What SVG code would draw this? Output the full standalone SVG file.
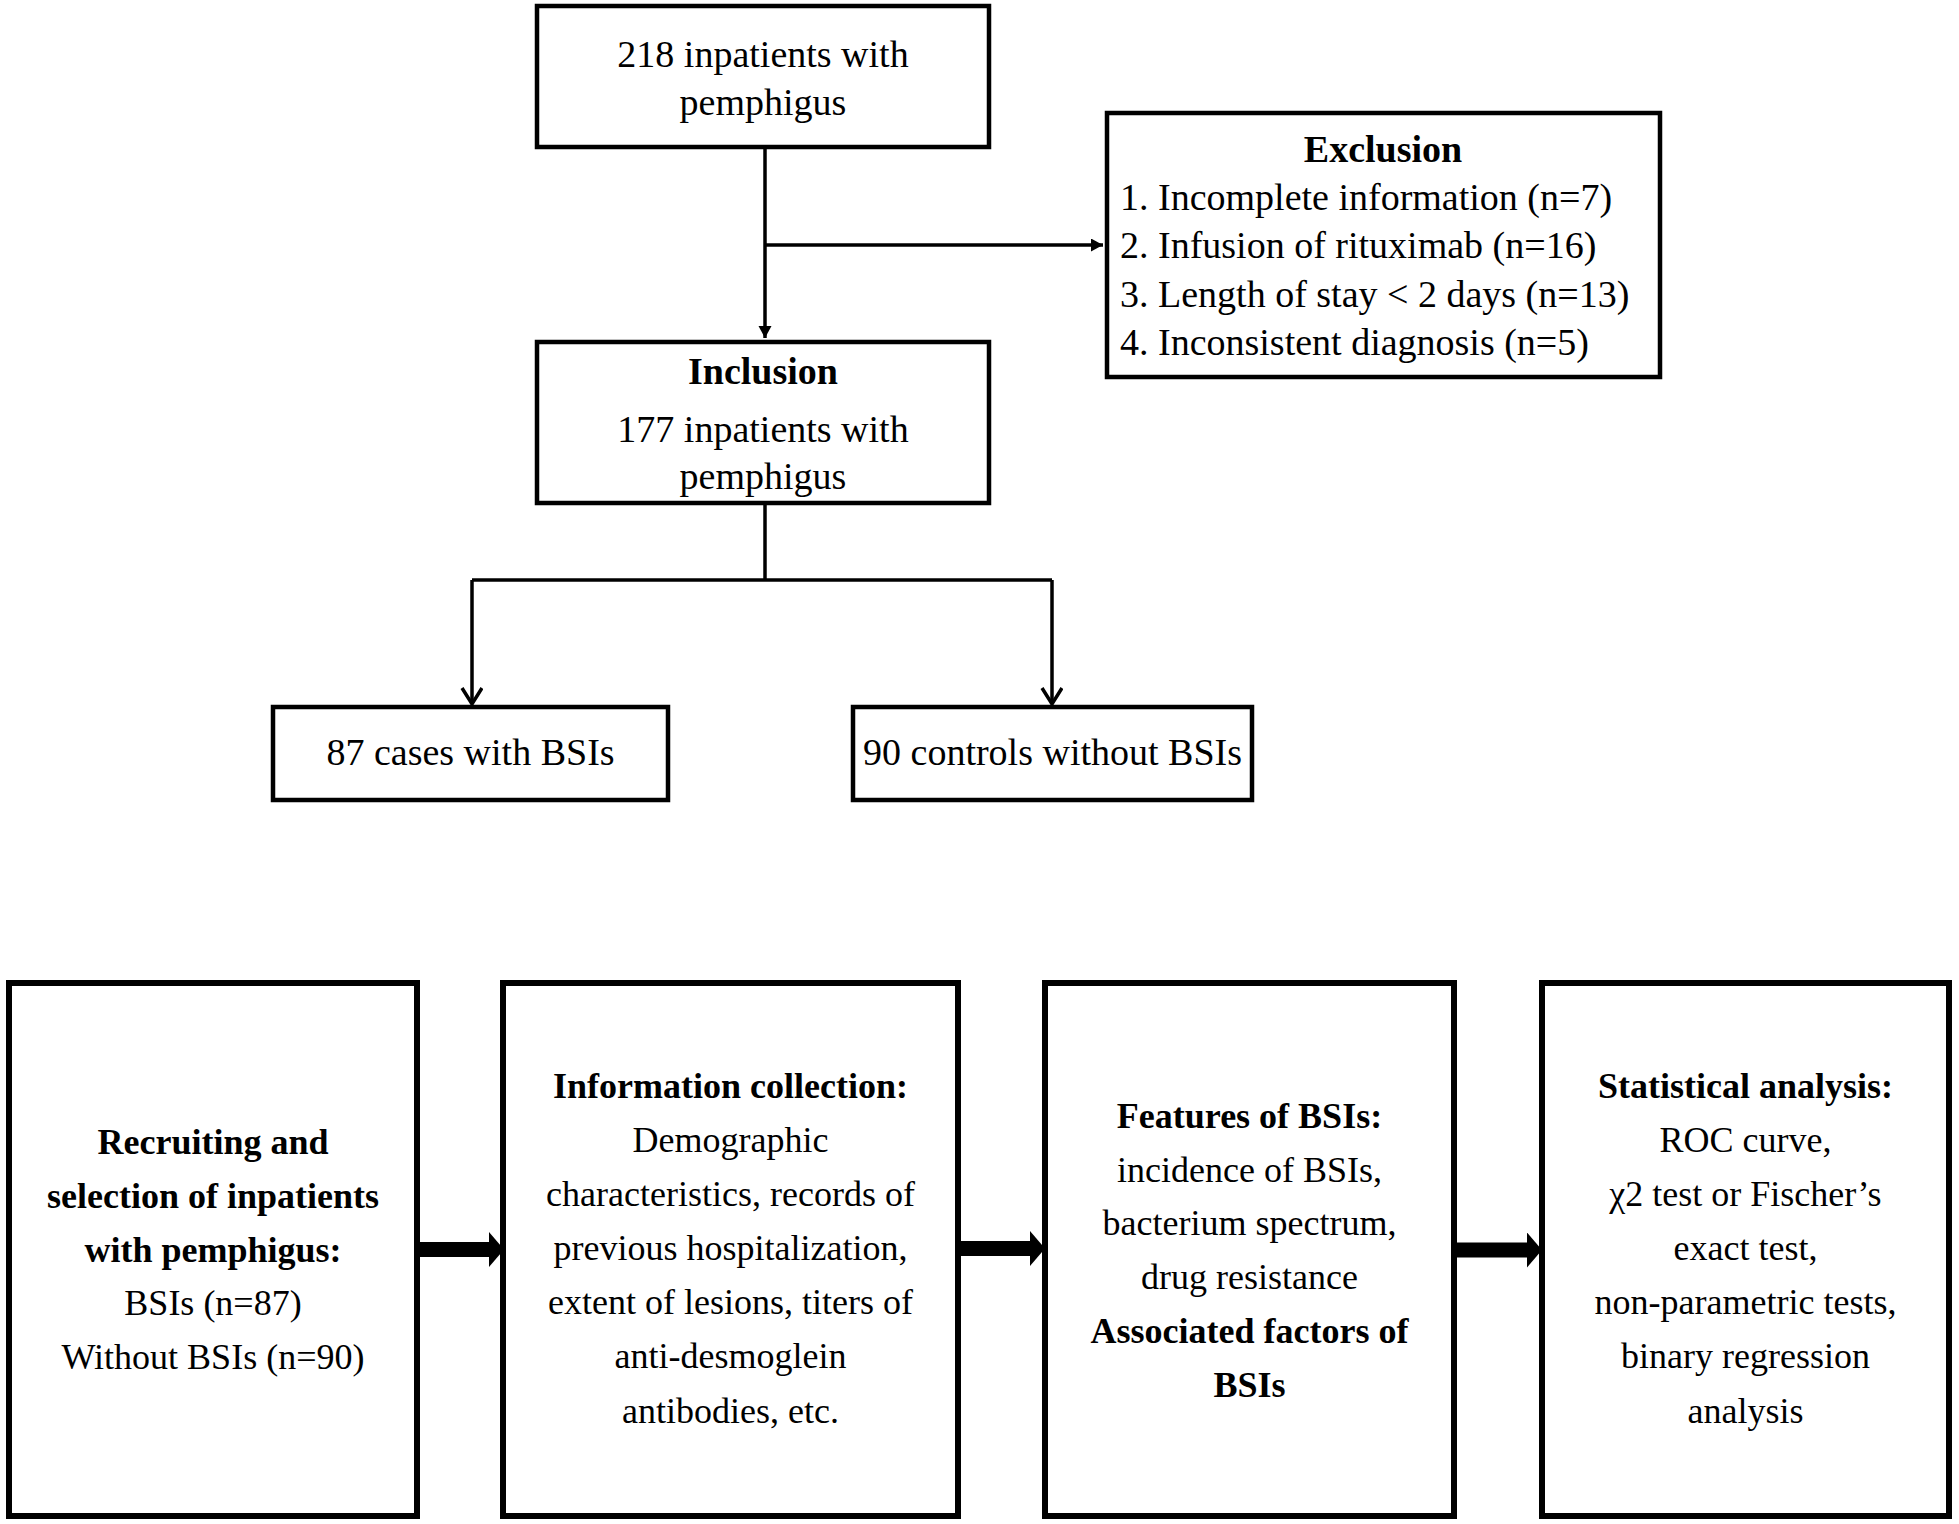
<svg xmlns="http://www.w3.org/2000/svg" width="1959" height="1524" viewBox="0 0 1959 1524">
<style>
  .box { fill: #ffffff; stroke: #000000; stroke-width: 4.5; }
  .bigbox { fill: #ffffff; stroke: #000000; stroke-width: 6; }
  .line { fill: none; stroke: #000000; stroke-width: 3.5; }
  .thick { fill: none; stroke: #000000; stroke-width: 15; }
  text { font-family: "Liberation Serif", "Times New Roman", serif; fill: #000000; }
  .t38 { font-size: 38px; }
  .t36 { font-size: 36px; }
  .c { text-anchor: middle; }
  .b { font-weight: bold; }
</style>
<defs>
  <marker id="solid" markerUnits="userSpaceOnUse" markerWidth="14" markerHeight="14" refX="12" refY="6.5" orient="auto">
    <path d="M0,0 L12,6.5 L0,13 z" fill="#000000"/>
  </marker>
  <marker id="open" markerUnits="userSpaceOnUse" markerWidth="22" markerHeight="26" refX="17" refY="11" orient="auto">
    <path d="M1,1 L17,11 L1,21" fill="none" stroke="#000000" stroke-width="3.5"/>
  </marker>
  <marker id="big" markerUnits="userSpaceOnUse" markerWidth="18" markerHeight="36" refX="0" refY="17.5" orient="auto">
    <path d="M0,0 L15,17.5 L0,35 z" fill="#000000"/>
  </marker>
</defs>

<g id="connectors">
  <line class="line" x1="765" y1="147" x2="765" y2="338" marker-end="url(#solid)"/>
  <line class="line" x1="765" y1="245" x2="1103" y2="245" marker-end="url(#solid)"/>
  <polyline class="line" points="765,503 765,580"/>
  <polyline class="line" points="472,580 1052,580"/>
  <line class="line" x1="472" y1="580" x2="472" y2="704" marker-end="url(#open)"/>
  <line class="line" x1="1052" y1="580" x2="1052" y2="704" marker-end="url(#open)"/>
  <line class="thick" x1="417" y1="1249.5" x2="489" y2="1249.5" marker-end="url(#big)"/>
  <line class="thick" x1="958" y1="1248.5" x2="1030" y2="1248.5" marker-end="url(#big)"/>
  <line class="thick" x1="1454" y1="1250" x2="1527" y2="1250" marker-end="url(#big)"/>
</g>

<g id="node-total">
  <rect class="box" x="537" y="6" width="452" height="141"/>
  <text class="t38 c" x="763" y="67">218 inpatients with</text>
  <text class="t38 c" x="763" y="115">pemphigus</text>
</g>

<g id="node-exclusion">
  <rect class="box" x="1107" y="113" width="553" height="264"/>
  <text class="t38 c b" x="1383" y="162">Exclusion</text>
  <text class="t38" x="1120" y="210">1. Incomplete information (n=7)</text>
  <text class="t38" x="1120" y="258">2. Infusion of rituximab (n=16)</text>
  <text class="t38" x="1120" y="307">3. Length of stay &lt; 2 days (n=13)</text>
  <text class="t38" x="1120" y="355">4. Inconsistent diagnosis (n=5)</text>
</g>

<g id="node-inclusion">
  <rect class="box" x="537" y="342" width="452" height="161"/>
  <text class="t38 c b" x="763" y="384">Inclusion</text>
  <text class="t38 c" x="763" y="442">177 inpatients with</text>
  <text class="t38 c" x="763" y="489">pemphigus</text>
</g>

<g id="node-cases">
  <rect class="box" x="273" y="707" width="395" height="93"/>
  <text class="t38 c" x="470.5" y="765">87 cases with BSIs</text>
</g>

<g id="node-controls">
  <rect class="box" x="853" y="707" width="399" height="93"/>
  <text class="t38 c" x="1052.5" y="765">90 controls without BSIs</text>
</g>

<g id="node-recruiting">
  <rect class="bigbox" x="9" y="983" width="408" height="533"/>
  <text class="t36 c b" x="213" y="1154">Recruiting and</text>
  <text class="t36 c b" x="213" y="1208">selection of inpatients</text>
  <text class="t36 c b" x="213" y="1262">with pemphigus:</text>
  <text class="t36 c" x="213" y="1315">BSIs (n=87)</text>
  <text class="t36 c" x="213" y="1369">Without BSIs (n=90)</text>
</g>

<g id="node-information">
  <rect class="bigbox" x="503" y="983" width="455" height="533"/>
  <text class="t36 c b" x="730.5" y="1098">Information collection:</text>
  <text class="t36 c" x="730.5" y="1152">Demographic</text>
  <text class="t36 c" x="730.5" y="1206">characteristics, records of</text>
  <text class="t36 c" x="730.5" y="1260">previous hospitalization,</text>
  <text class="t36 c" x="730.5" y="1314">extent of lesions, titers of</text>
  <text class="t36 c" x="730.5" y="1368">anti-desmoglein</text>
  <text class="t36 c" x="730.5" y="1423">antibodies, etc.</text>
</g>

<g id="node-features">
  <rect class="bigbox" x="1045" y="983" width="409" height="533"/>
  <text class="t36 c b" x="1249.5" y="1128">Features of BSIs:</text>
  <text class="t36 c" x="1249.5" y="1182">incidence of BSIs,</text>
  <text class="t36 c" x="1249.5" y="1235">bacterium spectrum,</text>
  <text class="t36 c" x="1249.5" y="1289">drug resistance</text>
  <text class="t36 c b" x="1249.5" y="1343">Associated factors of</text>
  <text class="t36 c b" x="1249.5" y="1397">BSIs</text>
</g>

<g id="node-statistics">
  <rect class="bigbox" x="1542" y="983" width="407" height="533"/>
  <text class="t36 c b" x="1745.5" y="1098">Statistical analysis:</text>
  <text class="t36 c" x="1745.5" y="1152">ROC curve,</text>
  <text class="t36 c" x="1745.5" y="1206">χ2 test or Fischer’s</text>
  <text class="t36 c" x="1745.5" y="1260">exact test,</text>
  <text class="t36 c" x="1745.5" y="1314">non-parametric tests,</text>
  <text class="t36 c" x="1745.5" y="1368">binary regression</text>
  <text class="t36 c" x="1745.5" y="1423">analysis</text>
</g>
</svg>
